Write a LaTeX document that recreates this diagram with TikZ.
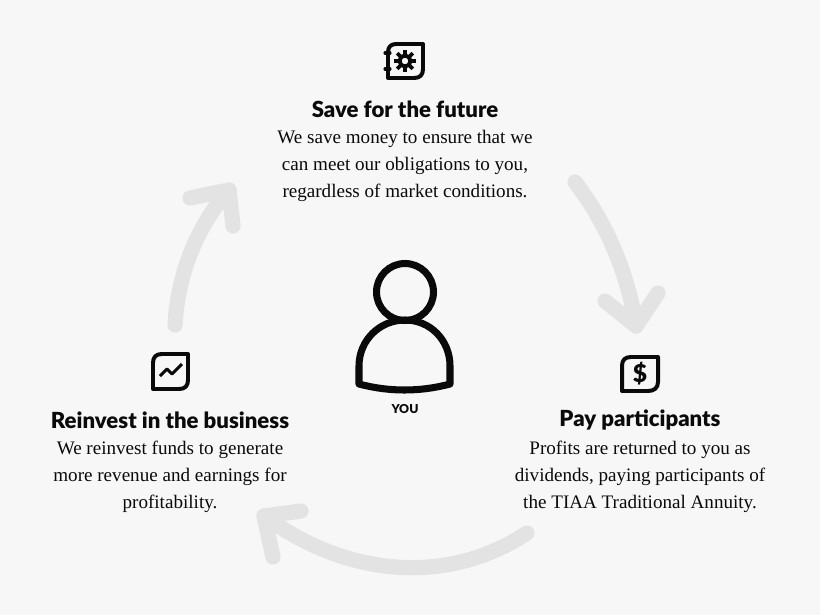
\documentclass[tikz,border=0pt]{standalone}
\usepackage{fontspec}
\setmainfont{Liberation Serif}
\setsansfont{Lato}[BoldFont=Lato Black]
\usetikzlibrary{arrows.meta}
\definecolor{bgcol}{HTML}{F7F7F7}
\definecolor{arrowcol}{HTML}{E3E3E3}
\definecolor{inkcol}{HTML}{0A0A0A}
\tikzset{
  title/.style={font=\sffamily\bfseries\fontsize{18.9}{22}\selectfont,text=inkcol,inner sep=0pt},
  body/.style={font=\fontsize{16.3}{23}\selectfont,text=inkcol,align=center,inner sep=0pt},
  bigarrow/.style={draw=arrowcol,line width=13pt,line cap=round,line join=round},
  icon/.style={draw=inkcol,line width=3.4pt,line join=round},
}
\begin{document}
\begin{tikzpicture}[x=0.03cm,y=-0.03cm]
\fill [bgcol] (0,0) rectangle (820,615);
\useasboundingbox (0,0) rectangle (820,615);
% texts
\node (SAVE) [title] at (405,109) {Save for the future};
\node (SAVETXT) [body] at (405,166) {We save money to ensure that we\\can meet our obligations to you,\\regardless of market conditions.};
\node (PAY) [title] at (640,420) {Pay participants};
\node (PAYTXT) [body] at (640,477) {Profits are returned to you as\\dividends, paying participants of\\the TIAA Traditional Annuity.};
\node (REINV) [title] at (170,420) {Reinvest in the business};
\node (REINVTXT) [body] at (170,477) {We reinvest funds to generate\\more revenue and earnings for\\profitability.};
\node (YOU) [font=\sffamily\bfseries\fontsize{10.5}{12}\selectfont,text=inkcol,inner sep=0pt] at (405,409) {YOU};
% arrow ends
\coordinate (A1) at (175,325);
\coordinate (A2) at (229,190);
\coordinate (A2L) at (190,198);
\coordinate (A2R) at (233,226);
\coordinate (B1) at (575,182);
\coordinate (B2) at (636,326);
\coordinate (B2L) at (605,301);
\coordinate (B2R) at (658,293);
\coordinate (C1) at (527,533);
\coordinate (C2) at (264,516);
\coordinate (C2L) at (301,511);
\coordinate (C2R) at (273,557);
% arrows
\draw [bigarrow] (A1) .. controls (178,272) and (198,225) .. (A2);
\draw [bigarrow] (A2L) -- (A2) -- (A2R);
\draw [bigarrow] (B1) .. controls (608,225) and (628,275) .. (B2);
\draw [bigarrow] (B2L) -- (B2) -- (B2R);
\draw [bigarrow] (C1) .. controls (450,584) and (350,579) .. (C2);
\draw [bigarrow] (C2L) -- (C2) -- (C2R);
% person
\draw [draw=inkcol,line width=6pt] (405,292) circle (28.5);
\draw [draw=inkcol,line width=6pt,line join=round] (359,384) -- (359,366) .. controls (359,340) and (380,320) .. (405,320) .. controls (430,320) and (450,340) .. (450,366) -- (450,384) .. controls (420,392) and (389,392) .. (359,384) -- cycle;
% book icon
\draw [icon] (423,44) -- (396,44) .. controls (391,44) and (388,47) .. (388,52) -- (388,78) -- (414,78) .. controls (420,78) and (423,75) .. (423,69) -- cycle;
\draw [inkcol,line width=2.6pt,line cap=round] (385,53) -- (390,53);
\draw [inkcol,line width=2.6pt,line cap=round] (385,69) -- (390,69);
\draw [draw=inkcol,line width=3.4pt] (405,61) circle (5.5);
\foreach \ang in {0,45,...,315}
  \draw [inkcol,line width=3.2pt] (405,61) ++(\ang:6) -- ++(\ang:5);
% dollar icon
\draw [icon] (658,357) -- (631,357) .. controls (625,357) and (622,360) .. (622,366) -- (622,391) -- (648,391) .. controls (654,391) and (658,388) .. (658,382) -- cycle;
\node (DOLLAR) [font=\sffamily\bfseries\fontsize{21}{23}\selectfont,text=inkcol,inner sep=0pt] at (640,374) {\$};
% chart icon
\draw [icon] (188,354) -- (162,354) .. controls (156,354) and (153,357) .. (153,363) -- (153,389) -- (179,389) .. controls (185,389) and (188,386) .. (188,380) -- cycle;
\draw [inkcol,line width=2.6pt,line join=bevel] (160,376) -- (167,369) -- (172,374) -- (182,364);
\end{tikzpicture}
\end{document}
